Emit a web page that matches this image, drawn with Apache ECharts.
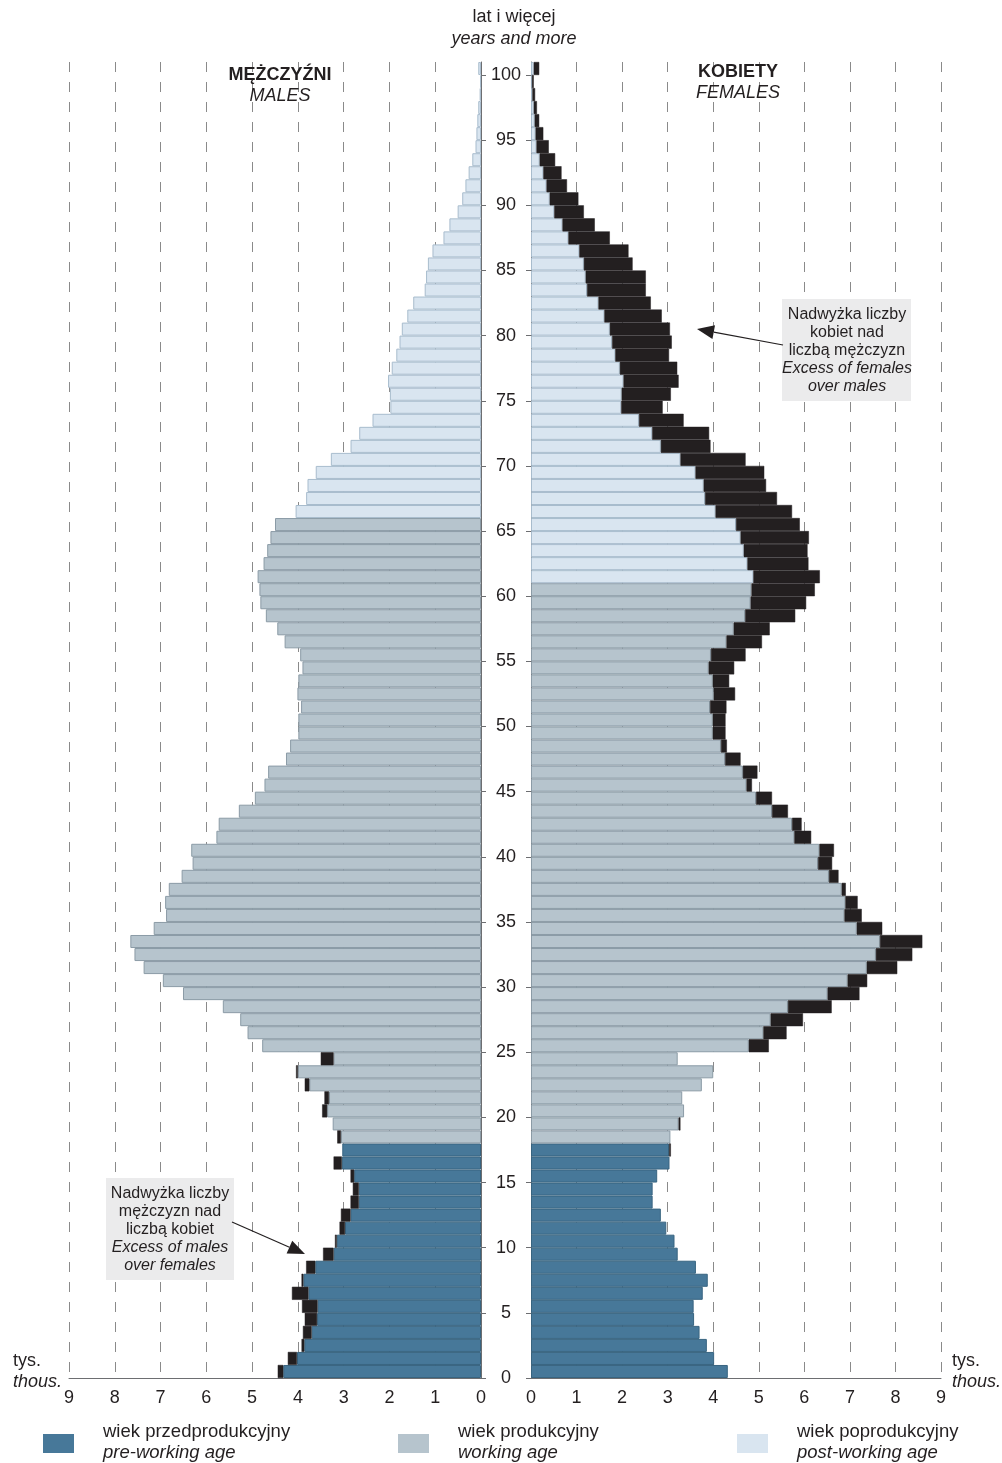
<!DOCTYPE html>
<html>
<head>
<meta charset="utf-8">
<script src="https://cdn.jsdelivr.net/npm/echarts@6/dist/echarts.min.js"></script>
<style>
html,body{margin:0;padding:0;background:#fff;}
#chart{width:1002px;height:1463px;}
</style>
</head>
<body>
<div id="chart"></div>
<script>
// Ages 0..100 (100 = "100 years and more")
const ages = [];
for (let a = 0; a <= 100; a++) ages.push(a);

// Population in thousands, by single year of age (index = age)
const males = [
  4.44, 4.22, 3.92, 3.89, 3.85, 3.91, 4.13, 3.92, 3.82, 3.45,
  3.19, 3.09, 3.06, 2.85, 2.80, 2.85, 3.22, 3.03, 3.14, 3.24,
  3.47, 3.42, 3.85, 4.04, 3.50, 4.78, 5.10, 5.26, 5.64, 6.51,
  6.95, 7.37, 7.57, 7.66, 7.15, 6.88, 6.90, 6.82, 6.54, 6.30,
  6.33, 5.78, 5.73, 5.29, 4.94, 4.73, 4.65, 4.26, 4.17, 3.99,
  3.99, 3.93, 4.01, 3.99, 3.90, 3.95, 4.29, 4.45, 4.70, 4.82,
  4.84, 4.88, 4.75, 4.67, 4.60, 4.50, 4.05, 3.82, 3.79, 3.61,
  3.28, 2.85, 2.66, 2.37, 1.98, 1.99, 2.03, 1.95, 1.85, 1.78,
  1.73, 1.61, 1.48, 1.23, 1.20, 1.16, 1.06, 0.82, 0.69, 0.51,
  0.41, 0.34, 0.27, 0.19, 0.12, 0.10, 0.08, 0.06, 0.03, 0.02,
  0.06
];
const females = [
  4.32, 4.02, 3.86, 3.70, 3.58, 3.57, 3.77, 3.88, 3.62, 3.22,
  3.15, 2.97, 2.85, 2.67, 2.67, 2.77, 3.04, 3.07, 3.06, 3.28,
  3.36, 3.32, 3.75, 4.00, 3.22, 5.22, 5.61, 5.97, 6.60, 7.21,
  7.38, 8.04, 8.37, 8.59, 7.71, 7.26, 7.17, 6.91, 6.75, 6.61,
  6.65, 6.15, 5.94, 5.64, 5.29, 4.85, 4.97, 4.60, 4.30, 4.27,
  4.27, 4.29, 4.48, 4.35, 4.46, 4.71, 5.07, 5.24, 5.80, 6.04,
  6.23, 6.34, 6.09, 6.07, 6.10, 5.90, 5.73, 5.40, 5.16, 5.12,
  4.71, 3.94, 3.91, 3.35, 2.89, 3.07, 3.24, 3.21, 3.03, 3.09,
  3.05, 2.87, 2.63, 2.52, 2.52, 2.23, 2.14, 1.73, 1.40, 1.16,
  1.04, 0.79, 0.67, 0.53, 0.39, 0.27, 0.18, 0.13, 0.09, 0.06,
  0.18
];

// Economic age groups: first age (row) of each group
const groupKeys = ['pre', 'working', 'post'];
const maleGroupStart = [0, 18, 66];
const femaleGroupStart = [0, 18, 61];

const groupLabelsPl = ['wiek przedprodukcyjny', 'wiek produkcyjny', 'wiek poprodukcyjny'];
const groupLabelsEn = ['pre-working age', 'working age', 'post-working age'];

const xTicks = [0, 1, 2, 3, 4, 5, 6, 7, 8, 9];

// Styles
const fills = { pre: '#477899', working: '#b6c4cd', post: '#d9e5f0' };
const borders = { pre: '#386480', working: '#8b9ba6', post: '#a8bccd' };
const excessColor = '#231f20';
const textColor = '#231f20';
const axisColor = '#6d6e71';
const FONT = '"Liberation Sans", Arial, Helvetica, sans-serif';

function groupOf(age, starts) {
  let g = 0;
  for (let i = 0; i < starts.length; i++) if (age >= starts[i]) g = i;
  return groupKeys[g];
}

function baseData(starts) {
  return ages.map((a, i) => {
    const g = groupOf(a, starts);
    return {
      value: Math.min(males[i], females[i]),
      itemStyle: { color: fills[g], borderColor: borders[g] }
    };
  });
}
const maleExcess = ages.map((a, i) => males[i] > females[i] ? +(males[i] - females[i]).toFixed(3) : '-');
const femaleExcess = ages.map((a, i) => females[i] > males[i] ? +(females[i] - males[i]).toFixed(3) : '-');

const chart = echarts.init(document.getElementById('chart'), null, { renderer: 'canvas' });

const gridTop = 62, gridBottom = 85;

function valueAxis(gridIndex, inverse) {
  return {
    type: 'value', gridIndex, min: 0, max: 9, interval: 1, inverse,
    axisLine: { show: true, onZero: false, lineStyle: { color: axisColor, width: 1 } },
    axisTick: { show: false },
    axisLabel: { color: textColor, fontSize: 18, fontFamily: FONT, margin: 11,
      formatter: v => xTicks.indexOf(v) >= 0 ? String(v) : '' },
    splitLine: { show: true, showMinLine: false, lineStyle: { color: '#8a8a8a', width: 1, type: [10, 10] } }
  };
}
function catAxis(gridIndex, position) {
  return {
    type: 'category', gridIndex, data: ages, position,
    axisLine: { show: true, lineStyle: { color: axisColor, width: 1 } },
    axisTick: { show: false }, axisLabel: { show: false }, splitLine: { show: false }
  };
}

const barCommon = { barCategoryGap: '0%', barGap: '0%', silent: true, animation: false };

function arrow(x1, y1, x2, y2) {
  const ang = Math.atan2(y2 - y1, x2 - x1);
  const L = 17, W = 7;
  const bx = x2 - L * Math.cos(ang), by = y2 - L * Math.sin(ang);
  const px = -Math.sin(ang) * W, py = Math.cos(ang) * W;
  return [
    { type: 'line', shape: { x1, y1, x2: bx, y2: by }, style: { stroke: excessColor, lineWidth: 1.2 }, z: 20 },
    { type: 'polygon', shape: { points: [[x2, y2], [bx + px, by + py], [bx - px, by - py]] }, style: { fill: excessColor }, z: 20 }
  ];
}

function textLines(cx, y0, lines, size, lh) {
  return lines.map((l, i) => ({
    type: 'text', x: cx, y: y0 + i * lh, z: 20,
    style: { text: l[0], fill: textColor, font: (l[1] ? 'italic ' : '') + size + 'px ' + FONT, textAlign: 'center', textVerticalAlign: 'middle' }
  }));
}

const graphics = [];
// top header
graphics.push(...textLines(514, 17, [['lat i więcej', 0], ['years and more', 1]], 18, 22));
// side titles
graphics.push({ type: 'text', x: 280, y: 75, z: 20, style: { text: 'MĘŻCZYŹNI', fill: textColor, font: 'bold 18px ' + FONT, textAlign: 'center', textVerticalAlign: 'middle' } });
graphics.push({ type: 'text', x: 280, y: 96, z: 20, style: { text: 'MALES', fill: textColor, font: 'italic 18px ' + FONT, textAlign: 'center', textVerticalAlign: 'middle' } });
graphics.push({ type: 'text', x: 738, y: 72, z: 20, style: { text: 'KOBIETY', fill: textColor, font: 'bold 18px ' + FONT, textAlign: 'center', textVerticalAlign: 'middle' } });
graphics.push({ type: 'text', x: 738, y: 93, z: 20, style: { text: 'FEMALES', fill: textColor, font: 'italic 18px ' + FONT, textAlign: 'center', textVerticalAlign: 'middle' } });
// units
[13, 952].forEach((x) => {
  graphics.push({ type: 'text', x, y: 1361, z: 20, style: { text: 'tys.', fill: textColor, font: '18px ' + FONT, textAlign: 'left', textVerticalAlign: 'middle' } });
  graphics.push({ type: 'text', x, y: 1382, z: 20, style: { text: 'thous.', fill: textColor, font: 'italic 18px ' + FONT, textAlign: 'left', textVerticalAlign: 'middle' } });
});
// annotation boxes
graphics.push({ type: 'rect', shape: { x: 782, y: 299, width: 129, height: 102 }, style: { fill: '#ebebec' }, z: 15 });
graphics.push(...textLines(847, 315, [['Nadwyżka liczby', 0], ['kobiet nad', 0], ['liczbą mężczyzn', 0], ['Excess of females', 1], ['over males', 1]], 16, 18));
graphics.push(...arrow(783, 345, 697, 329));
graphics.push({ type: 'rect', shape: { x: 106, y: 1178, width: 128, height: 102 }, style: { fill: '#ebebec' }, z: 15 });
graphics.push(...textLines(170, 1194, [['Nadwyżka liczby', 0], ['mężczyzn nad', 0], ['liczbą kobiet', 0], ['Excess of males', 1], ['over females', 1]], 16, 18));
graphics.push(...arrow(232, 1222, 305, 1254));
// legend
const legendX = [43, 398, 737];
groupKeys.forEach((g, i) => {
  graphics.push({ type: 'rect', shape: { x: legendX[i], y: 1434, width: 31, height: 19 }, style: { fill: fills[g] }, z: 20 });
  graphics.push({ type: 'text', x: legendX[i] + 60, y: 1432, z: 20, style: { text: groupLabelsPl[i], fill: textColor, font: '18.5px ' + FONT, textAlign: 'left', textVerticalAlign: 'middle' } });
  graphics.push({ type: 'text', x: legendX[i] + 60, y: 1453, z: 20, style: { text: groupLabelsEn[i], fill: textColor, font: 'italic 18.5px ' + FONT, textAlign: 'left', textVerticalAlign: 'middle' } });
});

const option = {
  animation: false,
  backgroundColor: '#ffffff',
  grid: [
    { left: 69, right: 1002 - 481, top: gridTop, bottom: gridBottom },
    { left: 531, right: 1002 - 941, top: gridTop, bottom: gridBottom },
    { left: 481, right: 1002 - 531, top: 75, bottom: gridBottom }
  ],
  xAxis: [
    valueAxis(0, true),
    valueAxis(1, false),
    { type: 'value', gridIndex: 2, min: 0, max: 1, show: false }
  ],
  yAxis: [
    catAxis(0, 'right'),
    catAxis(1, 'left'),
    { type: 'value', gridIndex: 2, min: 0, max: 100, interval: 5, position: 'left',
      axisLine: { show: false }, splitLine: { show: false },
      axisTick: { show: true, inside: true, length: 5, lineStyle: { color: axisColor } },
      axisLabel: { inside: true, margin: 25, align: 'center', color: textColor, fontSize: 18, fontFamily: FONT } },
    { type: 'value', gridIndex: 2, min: 0, max: 100, interval: 5, position: 'right',
      axisLine: { show: false }, splitLine: { show: false },
      axisTick: { show: true, inside: true, length: 5, lineStyle: { color: axisColor } },
      axisLabel: { show: false } }
  ],
  series: [
    Object.assign({ type: 'bar', name: 'males-base', xAxisIndex: 0, yAxisIndex: 0, stack: 'L',
      data: baseData(maleGroupStart), itemStyle: { borderWidth: 1 } }, barCommon),
    Object.assign({ type: 'bar', name: 'males-excess', xAxisIndex: 0, yAxisIndex: 0, stack: 'L',
      data: maleExcess, itemStyle: { color: excessColor, borderColor: excessColor, borderWidth: 0.5 } }, barCommon),
    Object.assign({ type: 'bar', name: 'females-base', xAxisIndex: 1, yAxisIndex: 1, stack: 'R',
      data: baseData(femaleGroupStart), itemStyle: { borderWidth: 1 } }, barCommon),
    Object.assign({ type: 'bar', name: 'females-excess', xAxisIndex: 1, yAxisIndex: 1, stack: 'R',
      data: femaleExcess, itemStyle: { color: excessColor, borderColor: excessColor, borderWidth: 0.5 } }, barCommon)
  ],
  graphic: graphics
};
chart.setOption(option);
</script>
</body>
</html>
